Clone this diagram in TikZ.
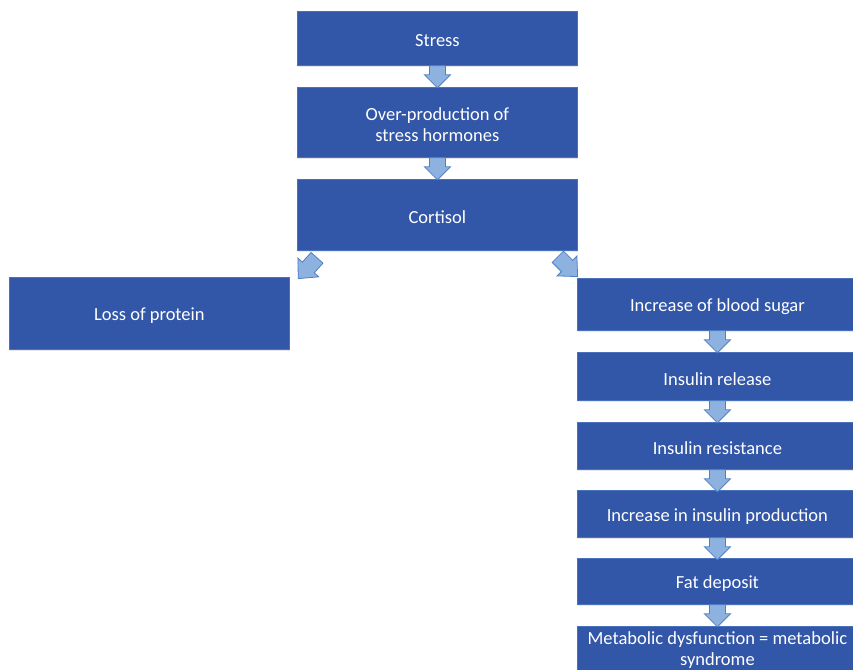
\documentclass[tikz,border=0pt]{standalone}
\usepackage{fontspec}
\setmainfont{Carlito}
\usetikzlibrary{calc,shadows}
\definecolor{boxfill}{HTML}{3256A8}
\definecolor{boxline}{HTML}{4A71BC}
\definecolor{arrowfill}{HTML}{8EB2E0}
\definecolor{arrowline}{HTML}{4F7FC4}
\tikzset{
  stepbox/.style={rectangle, anchor=north west, fill=boxfill, draw=boxline,
    line width=0.8pt, minimum width=280pt, inner sep=0pt,
    drop shadow={shadow xshift=0.8pt, shadow yshift=-1.6pt, opacity=0.18}},
  steptext/.style={text=white, font=\fontsize{18.5}{21}\selectfont,
    align=center, inner sep=0pt, yshift=-2.5pt},
  blockarrow/.style={fill=arrowfill, draw=arrowline, line width=0.8pt, line join=miter},
  downarrow/.pic={\draw[blockarrow] (-8,0) -- (8,0) -- (8,9) -- (13,9) -- (0,22)
    -- (-13,9) -- (-8,9) -- cycle;},
  slantarrow/.pic={\draw[blockarrow] (-8,0) -- (8,0) -- (8,13) -- (14,13) -- (0,28)
    -- (-14,13) -- (-8,13) -- cycle;}
}
\begin{document}
\begin{tikzpicture}[x=1pt,y=-1pt]
\path[use as bounding box] (0,0) rectangle (853,669);
\clip (0,0) rectangle (853,669);

% main chain
\node[stepbox, minimum height=54pt, label={[steptext]center:Stress}] (stress) at (297,11) {};
\node[stepbox, minimum height=70pt, label={[steptext]center:Over-production of\\stress hormones}] (over) at (297,87) {};
\node[stepbox, minimum height=71pt, label={[steptext]center:Cortisol}] (cortisol) at (297,179) {};

% left branch
\node[stepbox, minimum height=72pt, label={[steptext]center:Loss of protein}] (protein) at (9,277) {};

% right branch
\node[stepbox, minimum height=52pt, label={[steptext]center:Increase of blood sugar}] (sugar) at (577,278) {};
\node[stepbox, minimum height=48pt, label={[steptext]center:Insulin release}] (release) at (577,352) {};
\node[stepbox, minimum height=47pt, label={[steptext]center:Insulin resistance}] (resist) at (577,422) {};
\node[stepbox, minimum height=47pt, label={[steptext]center:Increase in insulin production}] (produce) at (577,490) {};
\node[stepbox, minimum height=46pt, label={[steptext]center:Fat deposit}] (fat) at (577,558) {};
\node[stepbox, minimum height=46pt, label={[steptext, yshift=2pt]center:Metabolic dysfunction = metabolic\\syndrome}] (meta) at (577,626) {};

% block arrows between the boxes
\pic at (stress.south) {downarrow};
\pic at (over.south) {downarrow};
\pic[rotate=-42] at ($(cortisol.south west)+(20,7)$) {slantarrow};
\pic[rotate=45] at ($(cortisol.south east)+(-20,6)$) {slantarrow};
\pic at (sugar.south) {downarrow};
\pic at (release.south) {downarrow};
\pic at (resist.south) {downarrow};
\pic at (produce.south) {downarrow};
\pic at (fat.south) {downarrow};
\end{tikzpicture}
\end{document}
